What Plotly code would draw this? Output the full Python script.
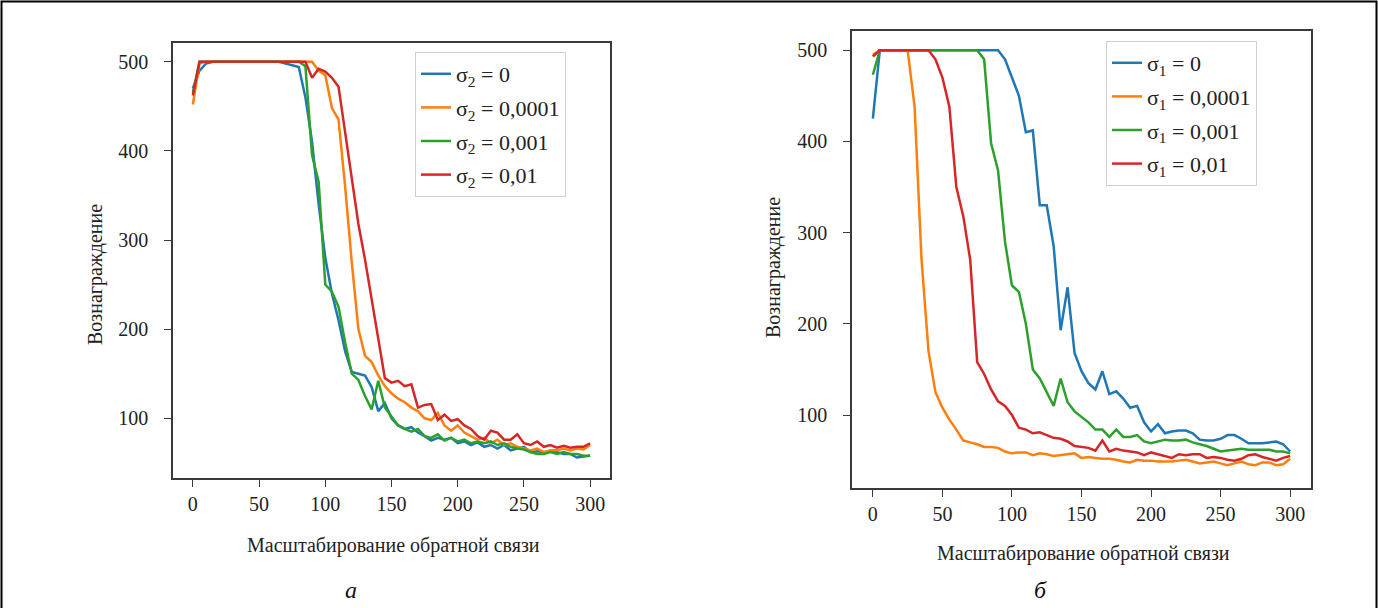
import plotly.graph_objects as go

# ---------------- data ----------------
x_vals = list(range(0, 301, 5))  # feedback scaling steps

# panel a (sigma_2)
a_s0 = [470, 490, 498] + [500] * 11 + [498, 496, 494, 460, 410, 340, 280, 240, 210, 175, 152, 150, 148, 135,
        108, 117, 100, 92, 88, 90, 84, 80, 75, 78, 76, 78, 72, 74, 70, 73, 68, 70, 66, 70, 64, 66, 68, 62,
        63, 62, 63, 62, 60, 60, 56, 57, 58]
a_s0001 = [452, 498] + [500] * 17 + [490, 485, 448, 435, 360, 275, 200, 170, 163, 148, 136, 128, 122, 118,
           112, 108, 100, 98, 106, 92, 86, 92, 84, 80, 76, 78, 72, 76, 70, 72, 68, 66, 64, 66, 62, 64, 64,
           66, 64, 66, 65, 70]
a_s001 = [465] + [500] * 16 + [495, 395, 365, 250, 242, 225, 185, 150, 143, 125, 110, 142, 112, 102, 92, 88,
          85, 88, 80, 78, 82, 75, 78, 74, 76, 72, 74, 72, 74, 70, 72, 68, 66, 65, 62, 60, 60, 62, 60, 62, 60,
          60, 58, 58, 58]
a_s01 = [462] + [500] * 17 + [482, 492, 489, 482, 472, 420, 365, 318, 278, 232, 188, 145, 140, 142, 136,
         138, 112, 115, 116, 98, 104, 97, 99, 92, 88, 80, 76, 86, 84, 76, 76, 82, 72, 70, 74, 68, 70, 67, 69,
         67, 68, 68, 72]

# panel b (sigma_1)
b_s0 = [425] + [500] * 18 + [490, 470, 450, 410, 412, 330, 330, 285, 193, 240, 168, 148, 135, 128, 148, 123,
        126, 118, 108, 110, 92, 82, 90, 80, 82, 83, 83, 80, 73, 72, 72, 74, 78, 78, 74, 69, 69, 69, 70, 71,
        68, 60]
b_s0001 = [495] + [500] * 5 + [438, 270, 170, 125, 108, 95, 84, 72, 70, 68, 65, 65, 64, 60, 58, 59, 59, 56,
           58, 57, 55, 56, 57, 58, 53, 54, 53, 52, 52, 51, 49, 48, 51, 50, 50, 49, 49, 49, 50, 51, 49, 47,
           48, 49, 47, 45, 47, 49, 46, 45, 48, 48, 45, 46, 52]
b_s001 = [473] + [500] * 15 + [490, 398, 368, 290, 242, 235, 200, 150, 140, 125, 110, 140, 114, 104, 98, 92,
          84, 84, 76, 84, 76, 76, 78, 71, 69, 71, 73, 72, 72, 73, 70, 68, 66, 63, 60, 61, 62, 63, 62, 62,
          62, 62, 60, 60, 58]
b_s01 = [493] + [500] * 8 + [490, 470, 438, 350, 318, 270, 158, 145, 128, 115, 110, 100, 86, 84, 80, 81, 78,
         75, 74, 71, 66, 65, 64, 61, 72, 60, 63, 61, 60, 59, 56, 59, 57, 55, 53, 57, 56, 57, 57, 53, 54, 53,
         51, 50, 52, 56, 57, 54, 52, 50, 53, 55]

legend_a = ["σ<sub>2</sub> = 0", "σ<sub>2</sub> = 0,0001", "σ<sub>2</sub> = 0,001", "σ<sub>2</sub> = 0,01"]
legend_b = ["σ<sub>1</sub> = 0", "σ<sub>1</sub> = 0,0001", "σ<sub>1</sub> = 0,001", "σ<sub>1</sub> = 0,01"]
x_ticks = [0, 50, 100, 150, 200, 250, 300]
y_ticks = [100, 200, 300, 400, 500]
x_title = "Масштабирование обратной связи"
y_title = "Вознаграждение"
panel_labels = ["а", "б"]

# ---------------- style ----------------
W, H = 1378, 608
COLORS = ["#1f77b4", "#ff7f0e", "#2ca02c", "#d62728"]
FONT = "Liberation Serif, Times New Roman, serif"


def px(xp):
    return xp / W


def py(yp):
    return 1 - yp / H


fig = go.Figure()

for i, (ys, name, c) in enumerate(zip([a_s0, a_s0001, a_s001, a_s01], legend_a, COLORS)):
    fig.add_trace(go.Scatter(x=x_vals, y=ys, mode="lines", name=name, legendgroup=f"a{i}",
                             line=dict(color=c, width=2.5), xaxis="x", yaxis="y", legend="legend"))
for i, (ys, name, c) in enumerate(zip([b_s0, b_s0001, b_s001, b_s01], legend_b, COLORS)):
    fig.add_trace(go.Scatter(x=x_vals, y=ys, mode="lines", name=name, legendgroup=f"b{i}",
                             line=dict(color=c, width=2.5), xaxis="x2", yaxis="y2", legend="legend2"))

axis_common = dict(showgrid=False, zeroline=False, showline=True, mirror=True,
                   linecolor="#3a3a3a", linewidth=1.5, ticks="outside", ticklen=7,
                   tickcolor="#3a3a3a", tickwidth=1.3,
                   tickfont=dict(family=FONT, size=20, color="#222"))

legend_common = dict(xanchor="left", yanchor="top", bgcolor="white", bordercolor="#d0d0d0",
                     borderwidth=1, tracegroupgap=2, font=dict(family=FONT, size=22, color="#222"))

fig.update_layout(
    width=W, height=H, autosize=False,
    margin=dict(l=0, r=0, t=0, b=0),
    paper_bgcolor="white", plot_bgcolor="white",
    font=dict(family=FONT, size=20, color="#222"),
    xaxis=dict(domain=[px(173), px(610)], range=[-15, 315], tickvals=x_ticks, anchor="y", **axis_common),
    yaxis=dict(domain=[py(478), py(43)], range=[33, 521], tickvals=y_ticks, anchor="x",
               ticklabelstandoff=12, **axis_common),
    xaxis2=dict(domain=[px(852), px(1311)], range=[-15, 315], tickvals=x_ticks, anchor="y2", **axis_common),
    yaxis2=dict(domain=[py(488), py(31)], range=[20, 521], tickvals=y_ticks, anchor="x2",
                ticklabelstandoff=12, **axis_common),
    legend=dict(x=px(415), y=py(52), **legend_common),
    legend2=dict(x=px(1106), y=py(41), **legend_common),
    showlegend=True,
)

ann_font = dict(family=FONT, size=20, color="#222")


def label(text, xp, yp, angle=0, font=ann_font):
    fig.add_annotation(text=text, x=px(xp), y=py(yp), xref="paper", yref="paper", textangle=angle,
                       xanchor="center", yanchor="middle", showarrow=False, font=font)


label(y_title, 95, 275, -90)
label(y_title, 773, 268, -90)
label(x_title, 393, 545)
label(x_title, 1083, 553)
label("<i>" + panel_labels[0] + "</i>", 351, 590, 0, dict(family=FONT, size=24, color="#111"))
label("<i>" + panel_labels[1] + "</i>", 1040, 590, 0, dict(family=FONT, size=24, color="#111"))

# outer frame of the figure
fig.add_shape(type="rect", xref="paper", yref="paper", x0=px(1.5), x1=px(1376.5), y0=-0.02, y1=py(1.5),
              line=dict(color="black", width=2), fillcolor="rgba(0,0,0,0)", layer="above")

fig.write_html("out.html", config={"displayModeBar": False},
               post_script="document.body.style.margin='0';document.body.style.overflow='hidden';")
